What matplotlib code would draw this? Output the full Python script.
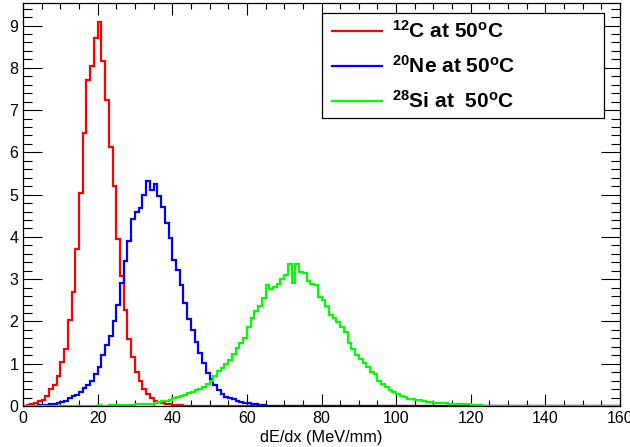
import matplotlib
matplotlib.use('Agg')
import matplotlib.pyplot as plt
from matplotlib.patches import Rectangle
from matplotlib.ticker import MultipleLocator
import numpy as np

plt.rcParams['font.family'] = ['Liberation Sans', 'DejaVu Sans']
plt.rcParams['mathtext.fontset'] = 'custom'
plt.rcParams['mathtext.rm'] = 'Liberation Sans:bold'
plt.rcParams['mathtext.it'] = 'Liberation Sans:bold'
plt.rcParams['mathtext.bf'] = 'Liberation Sans:bold'
plt.rcParams['mathtext.default'] = 'bf'

# dE/dx spectra, 1 MeV/mm bins from 0 to 160
n_bins = 160
bin_edges = np.arange(0, n_bins + 1, 1)

carbon_counts = [
    0.01, 0.02, 0.04, 0.08, 0.12, 0.14, 0.24, 0.40, 0.50, 0.70,
    1.03, 1.34, 2.04, 2.69, 3.71, 5.05, 6.46, 7.72, 8.04, 8.71,
    9.08, 8.17, 7.25, 6.13, 5.20, 3.94, 3.07, 2.28, 1.59, 1.15,
    0.81, 0.58, 0.40, 0.28, 0.18, 0.13, 0.09, 0.06, 0.05, 0.04,
    0.03, 0.03, 0.02, 0.01, 0.01, 0.01, 0.01, 0.01, 0.01, 0.01,
    0.01, 0.01, 0.01, 0.01, 0.01, 0.01, 0.01, 0.01, 0.01, 0.01,
    0.01, 0.01,
]

neon_counts = [
    0.01, 0.01, 0.01, 0.01, 0.02, 0.02, 0.03, 0.04, 0.05, 0.07,
    0.09, 0.13, 0.18, 0.23, 0.27, 0.33, 0.42, 0.50, 0.60, 0.76,
    0.93, 1.20, 1.45, 1.65, 2.01, 2.38, 2.91, 3.44, 3.90, 4.42,
    4.58, 4.68, 4.98, 5.33, 5.12, 5.25, 4.96, 4.71, 4.33, 3.97,
    3.46, 3.22, 2.87, 2.43, 2.05, 1.80, 1.52, 1.26, 1.01, 0.79,
    0.63, 0.50, 0.38, 0.28, 0.22, 0.18, 0.16, 0.12, 0.10, 0.08,
    0.06, 0.05, 0.04, 0.03, 0.02,
] + [0.01] * 53

silicon_counts = [
    0.00, 0.00, 0.00, 0.00, 0.00, 0.00, 0.00, 0.00, 0.00, 0.00,
    0.00, 0.00, 0.00, 0.00, 0.00, 0.00, 0.00, 0.00, 0.00, 0.00,
    0.02, 0.00, 0.00, 0.03, 0.03, 0.03, 0.03, 0.03, 0.03, 0.03,
    0.05, 0.05, 0.05, 0.05, 0.05, 0.07, 0.09, 0.11, 0.13, 0.15,
    0.18, 0.21, 0.24, 0.27, 0.30, 0.33, 0.37, 0.41, 0.46, 0.52,
    0.59, 0.70, 0.82, 0.91, 1.00, 1.10, 1.22, 1.37, 1.48, 1.62,
    1.88, 2.08, 2.25, 2.37, 2.55, 2.87, 2.76, 2.81, 2.88, 3.00,
    3.10, 3.37, 2.91, 3.37, 3.18, 3.15, 2.95, 2.88, 2.86, 2.59,
    2.51, 2.37, 2.16, 2.08, 1.98, 1.86, 1.74, 1.50, 1.35, 1.21,
    1.11, 1.01, 0.93, 0.80, 0.76, 0.58, 0.52, 0.44, 0.38, 0.32,
    0.28, 0.24, 0.21, 0.17, 0.16, 0.14, 0.14, 0.13, 0.10, 0.10,
    0.08, 0.08, 0.07, 0.06, 0.05, 0.05, 0.05, 0.04, 0.04, 0.04,
    0.03, 0.03, 0.02, 0.01,
]

series = [
    (carbon_counts, '#ff0000', r'$^{12}$C at 50$^{o}$C'),
    (neon_counts, '#0000ff', r'$^{20}$Ne at 50$^{o}$C'),
    (silicon_counts, '#00ff00', r'$^{28}$Si at  50$^{o}$C'),
]


def pad(counts):
    vals = np.zeros(n_bins)
    vals[:len(counts)] = counts
    return vals


fig = plt.figure(figsize=(6.3, 4.47), dpi=100)
ax = fig.add_axes([23 / 630, 41 / 447, 597 / 630, 403 / 447])

for i, (counts, color, label) in enumerate(series):
    ax.stairs(pad(counts), bin_edges, color=color, linewidth=1.6,
              baseline=None, zorder=2 + i * 0.1)

ymax = 1.05 * max(carbon_counts)
ax.set_xlim(0, 160)
ax.set_ylim(0, ymax)

ax.xaxis.set_major_locator(MultipleLocator(20))
ax.xaxis.set_minor_locator(MultipleLocator(5))
ax.yaxis.set_major_locator(MultipleLocator(1))
ax.yaxis.set_minor_locator(MultipleLocator(0.2))

ax.tick_params(which='both', direction='in', top=True, right=True,
               width=0.8, labelsize=11.5, colors='black')
ax.tick_params(axis='x', which='major', length=8.5, pad=3.5)
ax.tick_params(axis='x', which='minor', length=4.3)
ax.tick_params(axis='y', which='major', length=13.5, pad=3.5)
ax.tick_params(axis='y', which='minor', length=6.5)
for s in ax.spines.values():
    s.set_linewidth(0.9)

ax.set_xlabel('dE/dx (MeV/mm)', fontsize=11.7, labelpad=3)

# legend box drawn in axes coordinates
box_x0, box_x1 = 0.501, 0.973
box_y0, box_y1 = 0.715, 0.975
ax.add_patch(Rectangle((box_x0, box_y0), box_x1 - box_x0, box_y1 - box_y0,
                       transform=ax.transAxes, facecolor='white',
                       edgecolor='black', linewidth=0.9, zorder=5))
row_y = [0.930, 0.843, 0.756]
for (counts, color, label), y in zip(series, row_y):
    ax.plot([0.518, 0.601], [y, y], transform=ax.transAxes, color=color,
            linewidth=1.6, zorder=6)
    ax.text(0.618, y, label, transform=ax.transAxes, fontsize=15,
            fontweight='bold', va='center', ha='left', zorder=6)

fig.savefig('out.png', dpi=100, facecolor='white')
